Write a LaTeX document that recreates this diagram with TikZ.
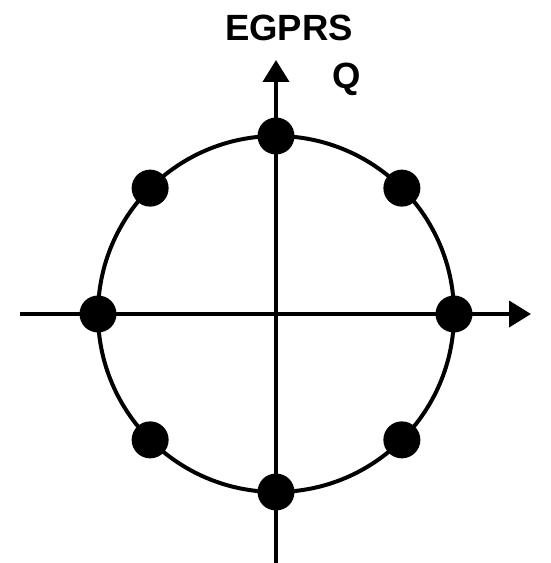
\documentclass[tikz,border=0pt]{standalone}
\usepackage{fontspec}
\setmainfont{Liberation Sans}
\usetikzlibrary{arrows.meta}
\begin{document}
\begin{tikzpicture}[x=1pt, y=1pt,
  every node/.style={font=\fontsize{36.5}{40}\selectfont\bfseries},
  dot/.style={circle, fill=black, inner sep=0pt, minimum size=37pt},
  axis/.style={line width=4pt, -{Triangle[length=22pt, width=26pt]}}]
  \useasboundingbox (0,0) rectangle (551,563);
  % Origin and free ends of the axes
  \coordinate (o) at (276,249);
  \coordinate (xstart) at (20,249);
  \coordinate (xend) at (531,249);
  \coordinate (ystart) at (276,0);
  \coordinate (yend) at (276,503);
  % Axes
  \draw[axis] (xstart) -- (xend);
  \draw[axis] (ystart) -- (yend);
  % Unit circle
  \draw[line width=4pt] (o) circle (178);
  % 8-PSK constellation points
  \foreach \a [count=\i] in {0,45,...,315}
    \node[dot] (p\i) at ([shift={(\a:178)}]o) {};
  % Labels
  \node (title) at (289,535) {EGPRS};
  \node (qlabel) at (347,484) {Q};
\end{tikzpicture}
\end{document}
